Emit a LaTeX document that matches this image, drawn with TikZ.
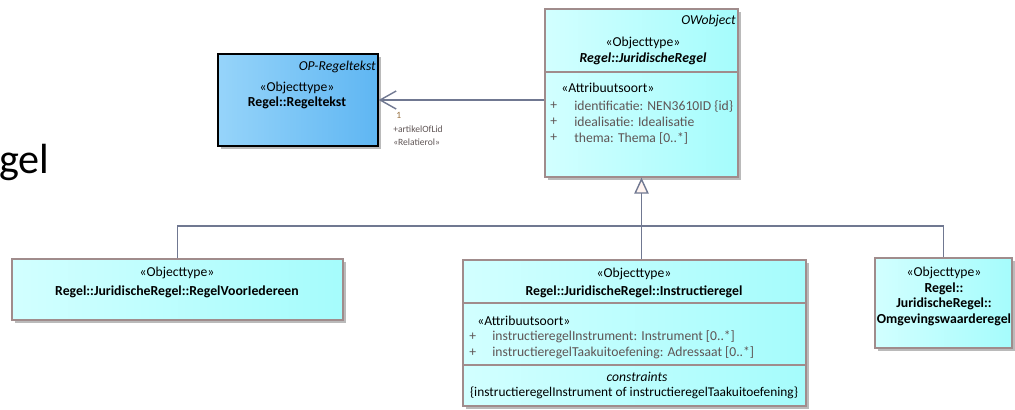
\documentclass[tikz,border=0pt]{standalone}
\usepackage{fontspec}
\setmainfont{Carlito}
\usetikzlibrary{positioning,shadows,arrows.meta}
\definecolor{clsedge}{RGB}{160,140,140}
\definecolor{clsleft}{RGB}{210,255,255}
\definecolor{clsright}{RGB}{165,252,252}
\definecolor{opleft}{RGB}{150,212,250}
\definecolor{opright}{RGB}{95,182,242}
\definecolor{linkline}{RGB}{112,120,145}
\definecolor{attrgray}{RGB}{95,85,85}
\definecolor{multcol}{RGB}{150,110,60}
\definecolor{tipfill}{RGB}{255,244,240}
\tikzset{
  clsbox/.style={draw=clsedge, line width=0.9pt, left color=clsleft, right color=clsright,
    drop shadow={shadow xshift=2pt, shadow yshift=-2pt, opacity=0.45, fill=black!60}, inner sep=0pt},
  opbox/.style={draw=black, line width=1pt, left color=opleft, right color=opright,
    drop shadow={shadow xshift=2pt, shadow yshift=-2pt, opacity=0.45, fill=black!60}, inner sep=0pt},
  divider/.style={draw=clsedge, line width=0.9pt},
  umltxt/.style={inner sep=0pt, font=\fontsize{9.7}{11.4}\selectfont},
  pkgtxt/.style={inner sep=0pt, anchor=east, font=\fontsize{9.7}{11.4}\selectfont\itshape},
  nametxt/.style={inner sep=0pt, font=\fontsize{9.8}{11.4}\selectfont\bfseries},
  attrtxt/.style={umltxt, anchor=west, text=attrgray},
  roletxt/.style={inner sep=0pt, anchor=west, text=attrgray, font=\fontsize{6.8}{7}\selectfont},
  linkline/.style={draw=linkline, line width=1pt},
  genline/.style={linkline, -{Triangle[length=0.4cm, width=0.36cm, fill=tipfill]}},
  assocline/.style={linkline, -{Straight Barb[length=0.4cm, width=0.45cm]}}
}

\begin{document}
\begin{tikzpicture}[x=0.025cm, y=-0.025cm]
\useasboundingbox (0,0) rectangle (1015,409);

\node[anchor=base west, inner sep=0pt, font=\fontsize{30}{36}\selectfont] (titel) at (-1,173) {gel};

\node[opbox, minimum width=4cm, minimum height=2.3cm] (regeltekst) at (298,100) {};
\node[clsbox, minimum width=4.825cm, minimum height=4.2cm] (jurregel) at (641.5,93) {};
\node[clsbox, minimum width=8.275cm, minimum height=1.525cm] (voorieder) at (177.5,289.5) {};
\node[clsbox, minimum width=8.575cm, minimum height=3.65cm] (instructie) at (634.5,333) {};
\node[clsbox, minimum width=3.425cm, minimum height=2.25cm] (omgeving) at (943.5,303) {};

\draw[divider] (jurregel.west |- 0,72) -- (jurregel.east |- 0,72);
\draw[divider] (instructie.west |- 0,303) -- (instructie.east |- 0,303);
\draw[divider] (instructie.west |- 0,365) -- (instructie.east |- 0,365);

\node[pkgtxt] (rtpkg) at (376,67) {OP-Regeltekst};
\node[umltxt] (rtstereo) at (297,88) {«Objecttype»};
\node[nametxt] (rtnaam) at (297,103) {Regel::Regeltekst};

\node[pkgtxt] (jrpkg) at (736,21) {OWobject};
\node[umltxt] (jrstereo) at (643,43) {«Objecttype»};
\node[nametxt, font=\fontsize{9.8}{11.4}\selectfont\bfseries\itshape] (jrnaam) at (643,59) {Regel::JuridischeRegel};
\node[umltxt, anchor=west] (jrattr) at (561,88) {«Attribuutsoort»};
\node[attrtxt] (jrplus1) at (550,106) {+};
\node[attrtxt] (jra1) at (574,106) {identificatie: NEN3610ID \{id\}};
\node[attrtxt] (jrplus2) at (550,122) {+};
\node[attrtxt] (jra2) at (574,122) {idealisatie: Idealisatie};
\node[attrtxt] (jrplus3) at (550,138) {+};
\node[attrtxt] (jra3) at (574,138) {thema: Thema [0..*]};

\node[umltxt] (vistereo) at (177,273) {«Objecttype»};
\node[nametxt] (vinaam) at (177,292) {Regel::JuridischeRegel::RegelVoorIedereen};

\node[umltxt] (instereo) at (634,274) {«Objecttype»};
\node[nametxt] (innaam) at (634,292) {Regel::JuridischeRegel::Instructieregel};
\node[umltxt, anchor=west] (inattr) at (477,321) {«Attribuutsoort»};
\node[attrtxt] (inplus1) at (469,337) {+};
\node[attrtxt] (ina1) at (492,337) {instructieregelInstrument: Instrument [0..*]};
\node[attrtxt] (inplus2) at (469,353) {+};
\node[attrtxt] (ina2) at (492,353) {instructieregelTaakuitoefening: Adressaat [0..*]};
\node[umltxt, font=\fontsize{9.7}{11.4}\selectfont\itshape] (incons) at (637,377) {constraints};
\node[umltxt, font=\fontsize{9.5}{11.4}\selectfont] (inconstxt) at (634,393) {\{instructieregelInstrument of instructieregelTaakuitoefening\}};

\node[umltxt] (omstereo) at (944,273) {«Objecttype»};
\node[nametxt] (omnaam1) at (944,289) {Regel::};
\node[nametxt] (omnaam2) at (944,304) {JuridischeRegel::};
\node[nametxt] (omnaam3) at (944,320) {Omgevingswaarderegel};

\coordinate (splitsing) at (jurregel.south |- 0,226);
\draw[genline] (instructie.north -| splitsing) -- (jurregel.south);
\draw[linkline] (voorieder.north) |- (splitsing);
\draw[linkline] (omgeving.north) |- (splitsing);
\draw[assocline] (jurregel.west |- regeltekst.east) -- (regeltekst.east);

\node[roletxt, text=multcol] (mult) at (396,115) {1};
\node[roletxt] (rolnaam) at (393,129) {+artikelOfLid};
\node[roletxt] (rolstereo) at (393,142) {«Relatierol»};
\end{tikzpicture}
\end{document}
